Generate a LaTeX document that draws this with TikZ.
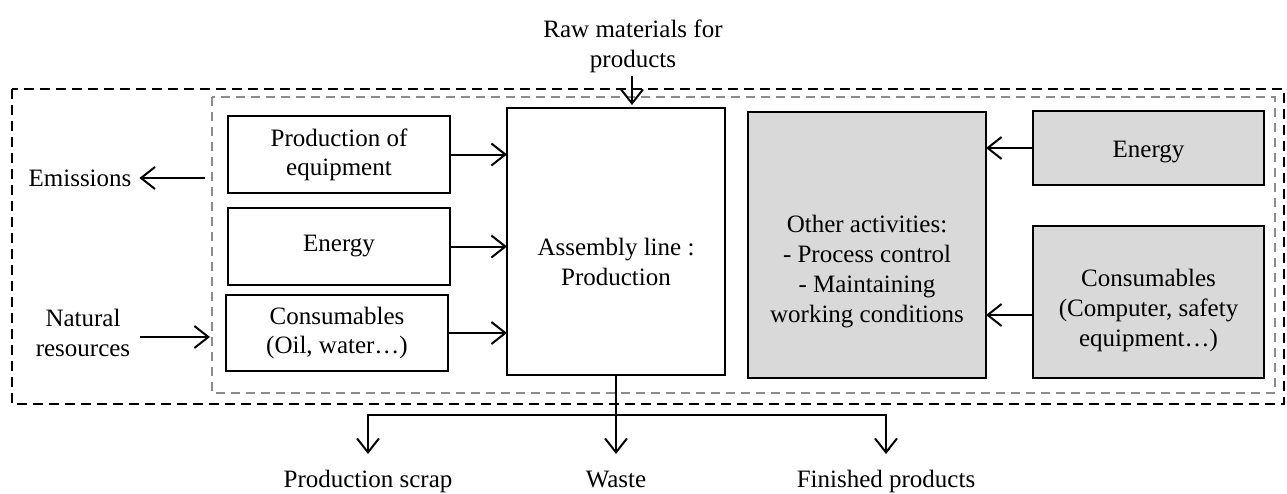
\documentclass[tikz,border=0pt]{standalone}
\usepackage{fontspec}
\setmainfont{Liberation Serif}
\usetikzlibrary{arrows.meta}
\definecolor{boxgray}{HTML}{D9D9D9}
\definecolor{dashgray}{HTML}{8C8C8C}
\tikzset{
  box/.style={draw=black, line width=2.2pt, inner sep=0pt, outer sep=0pt, align=center, font=\fontsize{25}{29}\selectfont},
  graybox/.style={box, fill=boxgray},
  txt/.style={inner sep=0pt, outer sep=0pt, align=center, font=\fontsize{25}{30}\selectfont},
  flow/.style={line width=2pt, -{Straight Barb[length=14pt,width=22pt,line width=2pt]}},
  outerdash/.style={draw=black, line width=2.6pt, dash pattern=on 10pt off 6pt},
  innerdash/.style={draw=dashgray, line width=1.8pt, dash pattern=on 9pt off 6pt}
}
\begin{document}
\begin{tikzpicture}[x=1pt,y=-1pt]
\useasboundingbox (0,0) rectangle (1287,493);
% system boundaries
\draw[outerdash] (12,89) rectangle (1284,404);
\draw[innerdash] (212,97) rectangle (1275,393);
% left boxes
\node[box, minimum width=222pt, minimum height=77pt] (peq) at (339,154.5) {Production of\\equipment};
\node[box, minimum width=222pt, minimum height=77pt] (en1) at (339,246.5) {Energy};
\node[box, minimum width=222pt, minimum height=76pt] (con1) at (337,333) {Consumables\\(Oil, water…)};
% assembly line
\node[box, minimum width=218pt, minimum height=267pt] (asm) at (616,241.5) {};
\node[txt] (asmtext) at (616,262) {Assembly line :\\Production};
% gray boxes
\node[graybox, minimum width=238pt, minimum height=266pt] (oth) at (867,245) {};
\node[txt] (othtext) at (867,272) {Other activities:\\- Process control\\- Maintaining\\working conditions};
\node[graybox, minimum width=231pt, minimum height=74pt] (en2) at (1148.5,148) {};
\node[txt, anchor=base] (en2text) at (1148.5,157) {Energy};
\node[graybox, minimum width=231pt, minimum height=152pt] (con2) at (1148.5,302) {};
\node[txt] (con2text) at (1148.5,310) {Consumables\\(Computer, safety\\equipment…)};
% outside labels
\node[txt] (raw) at (633,46) {Raw materials for\\products};
\node[txt] (em) at (80,178) {Emissions};
\node[txt] (nr) at (83,333) {Natural\\resources};
\node[txt, anchor=base] (ps) at (368,487) {Production scrap};
\node[txt, anchor=base] (ws) at (616,487) {Waste};
\node[txt, anchor=base] (fp) at (886,487) {Finished products};
% helper coordinates
\coordinate (rawend) at (632,105);
\coordinate (emsrc) at (205,178);
\coordinate (nrdst) at (210,337);
\coordinate (split) at (616,415);
\coordinate (psend) at (368,454);
\coordinate (wsend) at (616,454);
\coordinate (fpend) at (886,454);
% connectors
\draw[flow] (raw.south) ++(-1,4) -- (rawend);
\draw[flow] (peq.east) -- (peq.east -| asm.west);
\draw[flow] (en1.east) -- (en1.east -| asm.west);
\draw[flow] (con1.east) -- (con1.east -| asm.west);
\draw[flow] (en2.west) -- (en2.west -| oth.east);
\draw[flow] ([yshift=-13pt]con2.west) -- ([yshift=-13pt]con2.west -| oth.east);
\draw[flow] (emsrc) -- ([xshift=8pt]em.east);
\draw[flow] ([xshift=10pt]nr.east |- nrdst) -- (nrdst);
\draw[flow] (asm.south) -- (wsend);
\draw[flow] (split) -| (psend);
\draw[flow] (split) -| (fpend);
\end{tikzpicture}
\end{document}
